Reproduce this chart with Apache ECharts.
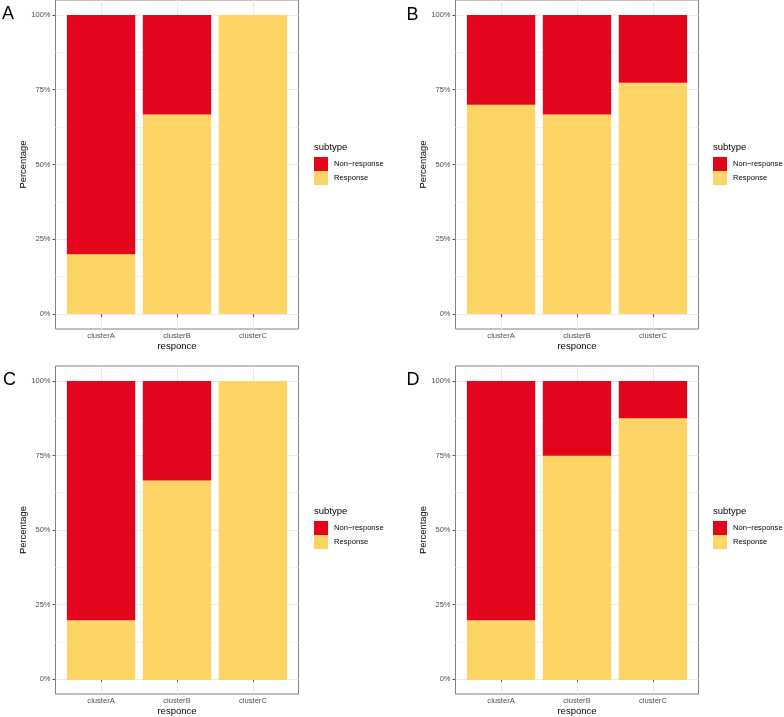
<!DOCTYPE html>
<html>
<head>
<meta charset="utf-8">
<script src="https://cdn.jsdelivr.net/npm/echarts@6/dist/echarts.min.js"></script>
<style>
html,body{margin:0;padding:0;background:#fff;}
#chart{width:784px;height:717px;}
</style>
</head>
<body>
<div id="chart"></div>
<script>
// ---- data ----
const categories = ['clusterA', 'clusterB', 'clusterC'];
const panelLetters = ['A', 'B', 'C', 'D'];
const seriesNames = ['Non\u2212response', 'Response'];
const responseA = [20, 66.7, 100];
const nonResponseA = [80, 33.3, 0];
const responseB = [70, 66.7, 77.3];
const nonResponseB = [30, 33.3, 22.7];
const responseC = [20, 66.7, 100];
const nonResponseC = [80, 33.3, 0];
const responseD = [20, 75, 87.5];
const nonResponseD = [80, 25, 12.5];
const yMajorTicks = [0, 25, 50, 75, 100];
const yMinorTicks = [12.5, 37.5, 62.5, 87.5];
const xPositions = [1, 2, 3];

const responses = [responseA, responseB, responseC, responseD];
const nonResponses = [nonResponseA, nonResponseB, nonResponseC, nonResponseD];

// ---- layout ----
const FONT = 'Liberation Sans, Arial, Helvetica, sans-serif';
const RED = '#E3051B';
const YELLOW = '#FDD567';
const panelLeft = [55.5, 455.5, 55.5, 455.5];
const panelTop = [0, 0, 366, 366];
const panelW = 243, panelH = 329;
const unitX = panelW / 3.2;          // one category band
const unitY = panelH / 110;          // one percent

const grids = [], xAxes = [], yAxes = [], series = [], legends = [], graphics = [];
const letterPos = [[2, 15.5], [406.5, 17], [3, 381.5], [406.5, 381.5]];
const legendPos = [[314, 157], [713, 157], [314, 521], [713, 521]];

for (let i = 0; i < 4; i++) {
  // frame grid (panel with border, grid lines, axis ticks & labels)
  grids.push({
    left: panelLeft[i], top: panelTop[i], width: panelW, height: panelH,
    show: true, borderColor: '#808080', borderWidth: 1, backgroundColor: 'transparent'
  });
  // data grid (bars), inset by ggplot's expansion
  grids.push({
    left: panelLeft[i] + 0.1 * unitX, top: panelTop[i] + 5 * unitY,
    width: 3 * unitX, height: 100 * unitY, show: false
  });
  const fg = 2 * i, dg = 2 * i + 1;
  xAxes.push({
    type: 'value', gridIndex: fg, min: 0.4, max: 3.6,
    axisLine: { show: false },
    axisTick: { show: true, customValues: xPositions, length: 3, lineStyle: { color: '#555', width: 1 } },
    axisLabel: {
      customValues: xPositions, margin: 3, fontSize: 7.6, color: '#4D4D4D', fontFamily: FONT,
      formatter: v => categories[Math.round(v) - 1] || ''
    },
    splitLine: { show: true, lineStyle: { color: '#EBEBEB', width: 1 } },
    name: 'responce', nameLocation: 'middle', nameGap: 12,
    nameTextStyle: { fontSize: 9.5, color: '#000', fontFamily: FONT }
  });
  xAxes.push({
    type: 'category', gridIndex: dg, data: categories, show: false, boundaryGap: true
  });
  const yBase = yAxes.length;
  yAxes.push({
    type: 'value', gridIndex: fg, min: -5, max: 105, position: 'left',
    axisLine: { show: false },
    axisTick: { show: true, customValues: yMajorTicks, length: 3, lineStyle: { color: '#555', width: 1 } },
    axisLabel: {
      customValues: yMajorTicks, margin: 5, fontSize: 7.5, color: '#4D4D4D', fontFamily: FONT,
      formatter: v => v + '%'
    },
    splitLine: { show: true, lineStyle: { color: '#EBEBEB', width: 1 } },
    name: 'Percentage', nameLocation: 'middle', nameGap: 27, nameRotate: 90,
    nameTextStyle: { fontSize: 9.4, color: '#000', fontFamily: FONT }
  });
  yAxes.push({
    type: 'value', gridIndex: fg, min: -5, max: 105, position: 'left',
    axisLine: { show: false },
    axisTick: { show: false, customValues: yMinorTicks },
    axisLabel: { show: false, customValues: yMinorTicks },
    splitLine: { show: true, lineStyle: { color: '#F4F4F4', width: 1 } }
  });
  yAxes.push({
    type: 'value', gridIndex: dg, min: 0, max: 100, show: false,
    splitLine: { show: false }
  });
  const dataY = yBase + 2;
  const dataX = 2 * i + 1;
  series.push({
    name: seriesNames[1], type: 'bar', xAxisIndex: dataX, yAxisIndex: dataY, stack: 'p' + i,
    barWidth: '90%', itemStyle: { color: YELLOW },
    data: responses[i]
  });
  series.push({
    name: seriesNames[0], type: 'bar', xAxisIndex: dataX, yAxisIndex: dataY, stack: 'p' + i,
    barWidth: '90%', itemStyle: { color: RED },
    data: nonResponses[i]
  });
  legends.push({
    orient: 'vertical', left: legendPos[i][0], top: legendPos[i][1], padding: 0,
    itemWidth: 14, itemHeight: 14, itemGap: 0, icon: 'rect', selectedMode: false,
    data: seriesNames,
    textStyle: { fontSize: 7.6, color: '#000', fontFamily: FONT, padding: [0, 0, 0, 1] }
  });
  graphics.push({
    type: 'text', left: letterPos[i][0], top: letterPos[i][1] - 10.5,
    style: { text: panelLetters[i], font: '18px ' + FONT, fill: '#000' }
  });
  graphics.push({
    type: 'text', left: legendPos[i][0], top: legendPos[i][1] - 15,
    style: { text: 'subtype', font: '9.5px ' + FONT, fill: '#000' }
  });
}

const chart = echarts.init(document.getElementById('chart'), null, { renderer: 'canvas' });
chart.setOption({
  animation: false,
  backgroundColor: '#fff',
  grid: grids,
  xAxis: xAxes,
  yAxis: yAxes,
  legend: legends,
  series: series,
  graphic: graphics
});
</script>
</body>
</html>
